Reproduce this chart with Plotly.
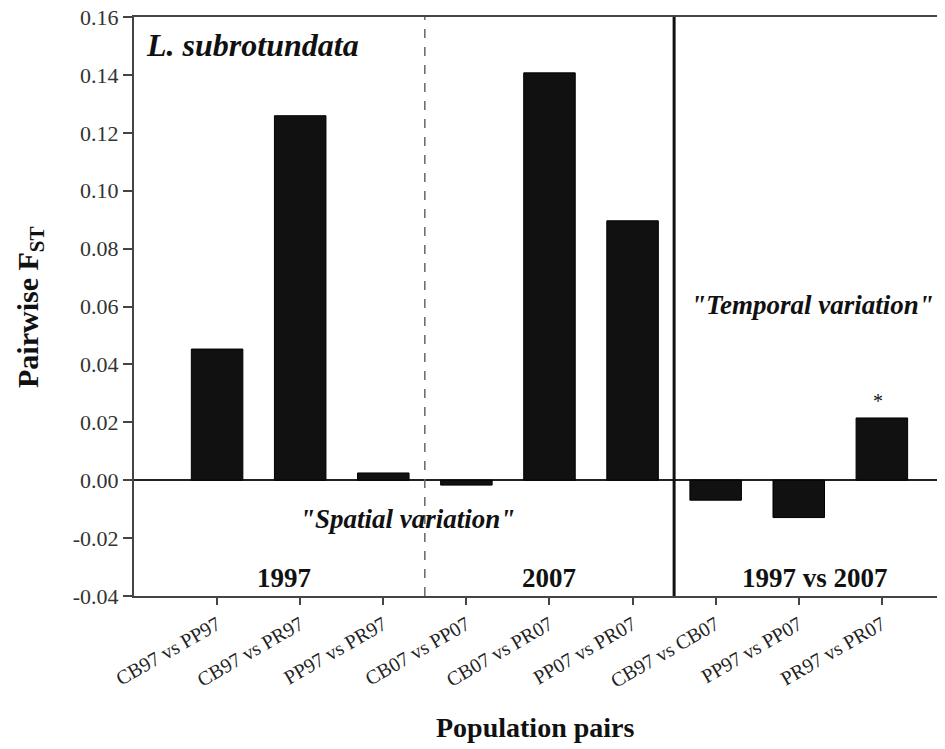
import plotly.graph_objects as go

categories = ["CB97 vs PP97", "CB97 vs PR97", "PP97 vs PR97",
              "CB07 vs PP07", "CB07 vs PR07", "PP07 vs PR07",
              "CB97 vs CB07", "PP97 vs PP07", "PR97 vs PR07"]
fst_values = [0.0453, 0.1259, 0.0025, -0.0017, 0.1407, 0.0896, -0.0069, -0.0129, 0.0215]
y_ticks = [-0.04, -0.02, 0.00, 0.02, 0.04, 0.06, 0.08, 0.10, 0.12, 0.14, 0.16]
group_labels = ["1997", "2007", "1997 vs 2007"]
group_centers = [0.8, 4.0, 7.2]

FONT = "Liberation Serif, Times New Roman, serif"
xpos = list(range(len(categories)))

# page body has an 8px margin, so the figure is sized/offset to compensate
PLOT_W, PLOT_H = 811, 579

fig = go.Figure()
fig.add_trace(go.Bar(x=xpos, y=fst_values, width=0.62,
                     marker=dict(color="#111111", line=dict(color="#000000", width=1))))

fig.update_layout(
    width=937, height=741,
    margin=dict(l=126, r=0, t=9, b=153, autoexpand=False),
    paper_bgcolor="white", plot_bgcolor="white",
    showlegend=False,
    font=dict(family=FONT, color="#222222"),
    xaxis=dict(range=[-1, 8.76], tickmode="array", tickvals=xpos, ticktext=categories,
               tickangle=-30, tickfont=dict(size=20, family=FONT, color="#222222"),
               ticks="outside", ticklen=7, tickwidth=1.5, tickcolor="#444444",
               showline=True, linecolor="#444444", linewidth=2, mirror=True,
               showgrid=False, zeroline=False, automargin=False),
    yaxis=dict(range=[-0.04, 0.16], tickmode="array", tickvals=y_ticks,
               ticktext=[f"{v:.2f}" for v in y_ticks],
               tickfont=dict(size=22, family=FONT, color="#333333"),
               ticks="outside", ticklen=9, tickwidth=1.5, tickcolor="#444444",
               showline=True, linecolor="#444444", linewidth=2, mirror=False,
               showgrid=False, zeroline=True, zerolinecolor="#222222", zerolinewidth=2,
               automargin=False, ticklabeloverflow="allow"),
)

# axis titles
fig.add_annotation(x=-104 / PLOT_W, y=288 / PLOT_H, xref="paper", yref="paper",
                   text="<b>Pairwise F<sub>ST</sub></b>", textangle=-90, showarrow=False,
                   xanchor="center", yanchor="middle",
                   font=dict(size=30, family=FONT, color="#111111"))
fig.add_annotation(x=401 / PLOT_W, y=-131 / PLOT_H, xref="paper", yref="paper",
                   text="<b>Population pairs</b>", showarrow=False,
                   xanchor="center", yanchor="middle",
                   font=dict(size=28, family=FONT, color="#111111"))

# group separators
fig.add_shape(type="line", x0=2.5, x1=2.5, y0=-0.04, y1=0.16, xref="x", yref="y",
              line=dict(color="#666666", width=1.5, dash="dash"))
fig.add_shape(type="line", x0=5.5, x1=5.5, y0=-0.04, y1=0.16, xref="x", yref="y",
              line=dict(color="#111111", width=3))

fig.add_annotation(x=-0.88, y=0.1505, xref="x", yref="y", text="<b><i>L. subrotundata</i></b>",
                   showarrow=False, xanchor="left", yanchor="middle",
                   font=dict(size=32, family=FONT, color="#111111"))
fig.add_annotation(x=2.29, y=-0.0133, xref="x", yref="y", text="<b><i>\"Spatial variation\"</i></b>",
                   showarrow=False, xanchor="center", yanchor="middle",
                   font=dict(size=27, family=FONT, color="#111111"))
fig.add_annotation(x=7.17, y=0.0605, xref="x", yref="y", text="<b><i>\"Temporal variation\"</i></b>",
                   showarrow=False, xanchor="center", yanchor="middle",
                   font=dict(size=27, family=FONT, color="#111111"))
for lbl, cx in zip(group_labels, group_centers):
    fig.add_annotation(x=cx, y=-0.0338, xref="x", yref="y", text=f"<b>{lbl}</b>",
                       showarrow=False, xanchor="center", yanchor="middle",
                       font=dict(size=27, family=FONT, color="#111111"))
fig.add_annotation(x=7.95, y=fst_values[8] + 0.0015, xref="x", yref="y", text="*",
                   showarrow=False, xanchor="center", yanchor="bottom",
                   font=dict(size=20, family=FONT, color="#111111"))

fig.write_html("out.html")
